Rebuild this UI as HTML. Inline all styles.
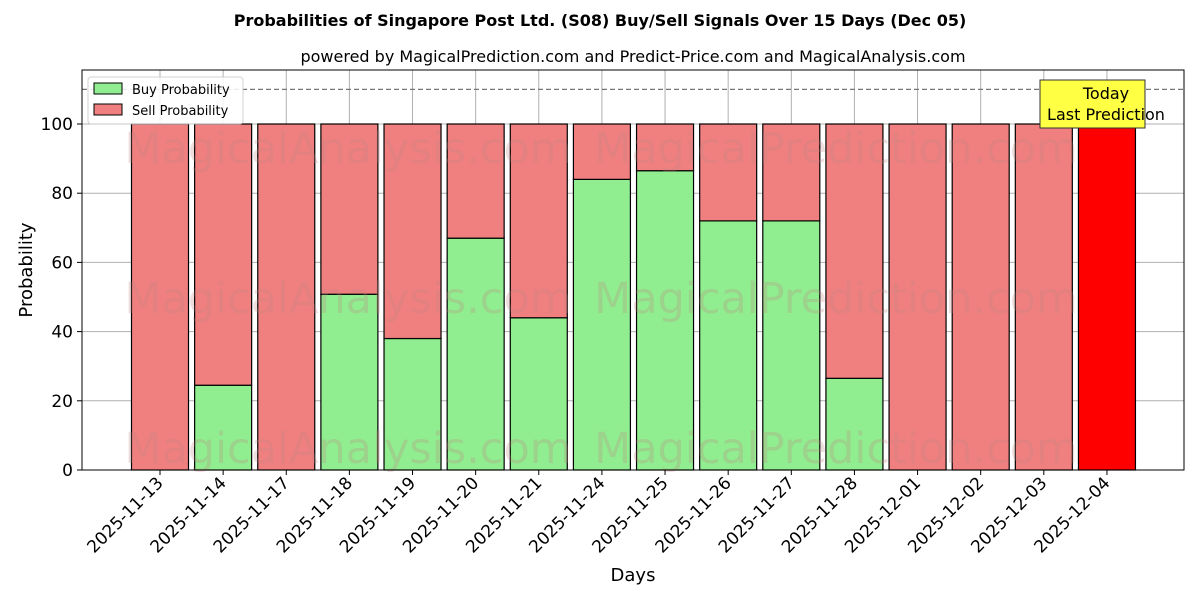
<!DOCTYPE html>
<html><head><meta charset="utf-8"><style>
body{margin:0;background:#fff;font-family:"Liberation Sans","DejaVu Sans",sans-serif}
</style></head><body>
<svg id="chart" width="1200" height="600" xmlns="http://www.w3.org/2000/svg" font-family="DejaVu Sans, Liberation Sans, sans-serif">
<text x="600" y="26" text-anchor="middle" font-size="16" font-weight="bold">Probabilities of Singapore Post Ltd. (S08) Buy/Sell Signals Over 15 Days (Dec 05)</text>
<text x="633" y="62" text-anchor="middle" font-size="16">powered by MagicalPrediction.com and Predict-Price.com and MagicalAnalysis.com</text>
<g id="grid"></g>
<g id="bars"></g>
<g id="wm" font-size="43" fill="#c08080" opacity="0.25">
<text x="348" y="163" text-anchor="middle">MagicalAnalysis.com</text>
<text x="836" y="163" text-anchor="middle">MagicalPrediction.com</text>
<text x="348" y="313" text-anchor="middle">MagicalAnalysis.com</text>
<text x="836" y="313" text-anchor="middle">MagicalPrediction.com</text>
<text x="348" y="463" text-anchor="middle">MagicalAnalysis.com</text>
<text x="836" y="463" text-anchor="middle">MagicalPrediction.com</text>
</g>
<g id="axes"></g>
<text x="633" y="581" text-anchor="middle" font-size="18">Days</text>
<text transform="translate(32,270) rotate(-90)" text-anchor="middle" font-size="18">Probability</text>
<g>
<rect x="88" y="77" width="155" height="47" fill="#fff" stroke="#ccc" rx="3" opacity="0.85"/>
<rect x="94" y="83" width="28" height="11" fill="#90ee90" stroke="#000"/>
<text x="132" y="94" font-size="13">Buy Probability</text>
<rect x="94" y="104" width="28" height="11" fill="#f08080" stroke="#000"/>
<text x="132" y="115" font-size="13">Sell Probability</text>
</g>
<g>
<rect x="1040" y="80" width="105" height="48" fill="#ffff44" stroke="#333"/>
<text x="1106" y="99" text-anchor="middle" font-size="16">Today</text>
<text x="1106" y="120" text-anchor="middle" font-size="16">Last Prediction</text>
</g>
</svg>
<script>
const days=["2025-11-13","2025-11-14","2025-11-17","2025-11-18","2025-11-19","2025-11-20","2025-11-21","2025-11-24","2025-11-25","2025-11-26","2025-11-27","2025-11-28","2025-12-01","2025-12-02","2025-12-03","2025-12-04"];
const buy=[0,24.5,0,50.8,38,67,44,84,86.5,72,72,26.5,0,0,0,0];
const sell=[100,75.5,100,49.2,62,33,56,16,13.5,28,28,73.5,100,100,100,100];
const yTicks=[0,20,40,60,80,100];
const dashedLevel=110;
const NS="http://www.w3.org/2000/svg";
const L=82,R=1184,T=70,B=470;
const y=v=>470-v*3.46;
const x=i=>160+i*63.13;
const bw=57;
function mk(p,tag,attrs){const e=document.createElementNS(NS,tag);for(const k in attrs)e.setAttribute(k,attrs[k]);p.appendChild(e);return e;}
const grid=document.getElementById('grid'),bars=document.getElementById('bars'),axes=document.getElementById('axes');
days.forEach((d,i)=>{mk(grid,'line',{x1:x(i),x2:x(i),y1:T,y2:B,stroke:'#b0b0b0','stroke-width':1});});
yTicks.forEach(v=>{mk(grid,'line',{x1:L,x2:R,y1:y(v),y2:y(v),stroke:'#b0b0b0','stroke-width':1});});
mk(grid,'line',{x1:L,x2:R,y1:y(dashedLevel),y2:y(dashedLevel),stroke:'#777','stroke-dasharray':'5,3','stroke-width':1.2});
days.forEach((d,i)=>{
  const last=i===days.length-1;
  const b=mk(bars,'rect',{x:x(i)-bw/2,y:y(buy[i]),width:bw,height:y(0)-y(buy[i]),fill:'#90ee90',stroke:'#000','stroke-width':1.2});
  
  
  const s=mk(bars,'rect',{x:x(i)-bw/2,y:y(buy[i]+sell[i]),width:bw,height:y(buy[i])-y(buy[i]+sell[i]),fill:last?'#ff0000':'#f08080',stroke:'#000','stroke-width':1.2});
  
  
  mk(axes,'line',{x1:x(i),x2:x(i),y1:B,y2:B+5,stroke:'#000'});
  const t=mk(axes,'text',{x:x(i)+4,y:B+14,'text-anchor':'end','font-size':17,transform:`rotate(-45 ${x(i)+4} ${B+14})`});
  t.textContent=d;
  
  
});
yTicks.forEach(v=>{
  mk(axes,'line',{x1:L-5,x2:L,y1:y(v),y2:y(v),stroke:'#000'});
  const t=mk(axes,'text',{x:L-9,y:y(v)+6,'text-anchor':'end','font-size':17});
  t.textContent=v;
  
  
});
const f=mk(axes,'rect',{x:L,y:T,width:R-L,height:B-T,fill:'none',stroke:'#000','stroke-width':1});


</script>
</body></html>
